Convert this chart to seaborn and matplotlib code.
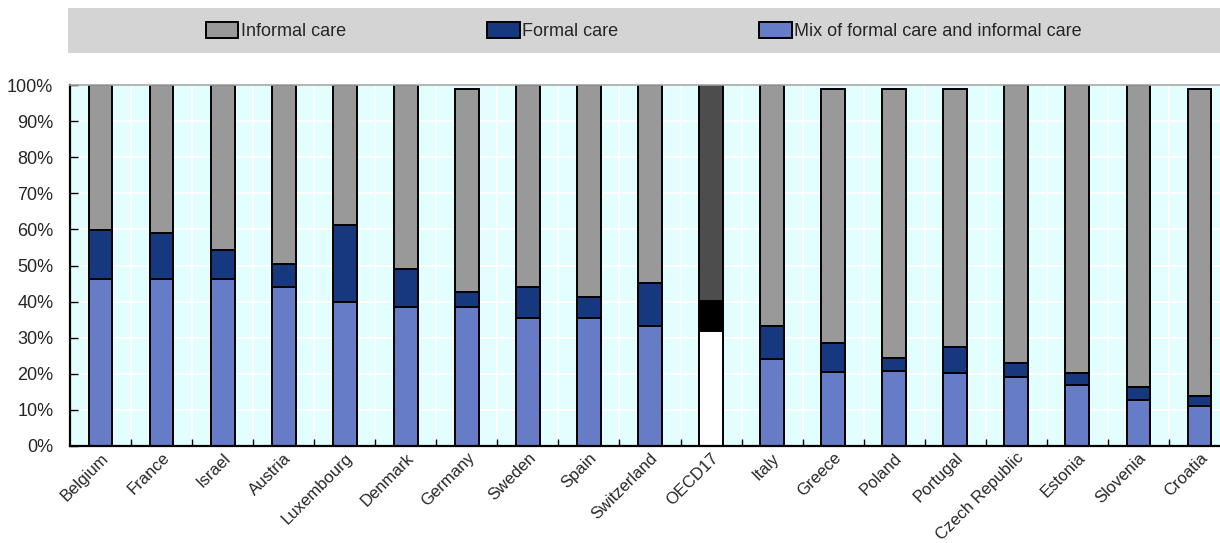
import numpy as np
import matplotlib
matplotlib.use("Agg")
import matplotlib.pyplot as plt
from matplotlib.patches import Patch, Rectangle
from matplotlib.ticker import FixedLocator, PercentFormatter
import seaborn as sns

countries = ["Belgium", "France", "Israel", "Austria", "Luxembourg", "Denmark",
             "Germany", "Sweden", "Spain", "Switzerland", "OECD17", "Italy",
             "Greece", "Poland", "Portugal", "Czech Republic", "Estonia",
             "Slovenia", "Croatia"]
mix_care = [46.3, 46.3, 46.3, 44.0, 40.0, 38.4, 38.4, 35.4, 35.4, 33.2, 31.9,
            24.2, 20.6, 20.8, 20.3, 19.0, 16.9, 12.7, 11.1]
formal_care = [13.5, 12.6, 7.9, 6.3, 21.2, 10.6, 4.2, 8.6, 5.8, 12.0, 8.4,
               9.0, 7.8, 3.5, 7.0, 4.0, 3.4, 3.7, 2.8]
informal_care = [40.2, 41.1, 45.8, 49.7, 38.8, 51.0, 56.3, 56.0, 58.8, 54.8,
                 59.7, 66.8, 70.5, 74.6, 71.6, 77.0, 79.7, 83.6, 85.0]
series_labels = ["Informal care", "Formal care",
                 "Mix of formal care and informal care"]

C_INFORMAL, C_FORMAL, C_MIX = "#999999", "#15387f", "#667cc6"
C_AVG = {"informal": "#4d4d4d", "formal": "#000000", "mix": "#ffffff"}
AVG = "OECD17"

sns.set_theme(style="white")
plt.rcParams["font.family"] = ["Liberation Sans", "DejaVu Sans"]

fig = plt.figure(figsize=(12.2, 5.43), dpi=100)
ax = fig.add_axes([70 / 1220, 97 / 543, 1160 / 1220, 361 / 543])
ax.set_facecolor("#e3fefe")

mix = np.array(mix_care)
formal = np.array(formal_care)
informal = np.array(informal_care)

# Stacked bars drawn as overlapping cumulative heights, tallest first
layers = [
    (mix + formal + informal, C_INFORMAL, "informal"),
    (mix + formal, C_FORMAL, "formal"),
    (mix, C_MIX, "mix"),
]
for heights, color, key in layers:
    pal = {c: (C_AVG[key] if c == AVG else color) for c in countries}
    sns.barplot(x=countries, y=heights, hue=countries, palette=pal,
                order=countries, hue_order=countries, width=0.39,
                edgecolor="black", linewidth=1.4, saturation=1,
                legend=False, ax=ax)

ax.set_xlim(-0.5, len(countries) - 0.5)
ax.set_ylim(0, 100)
ax.set_yticks(np.arange(0, 101, 10))
ax.yaxis.set_major_formatter(PercentFormatter(decimals=0))

ax.xaxis.set_minor_locator(FixedLocator(np.arange(0.5, len(countries) - 0.5, 1)))
ax.set_axisbelow(True)
ax.grid(False)
ax.yaxis.grid(True, which="major", color="white", linewidth=1.3)
ax.xaxis.grid(True, which="minor", color="white", linewidth=1.3)

ax.tick_params(axis="y", which="major", direction="in", length=6, width=1,
               color="black", pad=12, labelsize=13, left=True)
ax.tick_params(axis="x", which="major", length=0, pad=3, labelsize=12)
ax.tick_params(axis="x", which="minor", direction="in", length=5, width=1,
               color="black", bottom=True)
for lbl in ax.get_xticklabels():
    lbl.set_rotation(45)
    lbl.set_ha("right")
    lbl.set_va("top")
    lbl.set_rotation_mode("anchor")

ax.set_xlabel("")
ax.set_ylabel("")
for side in ("left", "bottom"):
    ax.spines[side].set_color("black")
    ax.spines[side].set_linewidth(1.6)
ax.spines["top"].set_color("#a8a8a8")
ax.spines["top"].set_linewidth(1.2)
ax.spines["right"].set_visible(False)

# Legend band across the top
fig.patches.append(Rectangle((68 / 1220, 1 - 53 / 543), (1220 - 68) / 1220,
                             45 / 543, transform=fig.transFigure,
                             facecolor="#d4d4d4", edgecolor="none", zorder=0))
handles = [Patch(facecolor=c, edgecolor="black", linewidth=1.4)
           for c in (C_INFORMAL, C_FORMAL, C_MIX)]
fig.legend(handles, series_labels, loc="center",
           bbox_to_anchor=(644 / 1220, 1 - 31 / 543), ncol=3, frameon=False,
           fontsize=13, handlelength=1.8, handleheight=1.0,
           handletextpad=0.15, columnspacing=7.8, borderpad=0)

fig.savefig("out.png", dpi=100)
